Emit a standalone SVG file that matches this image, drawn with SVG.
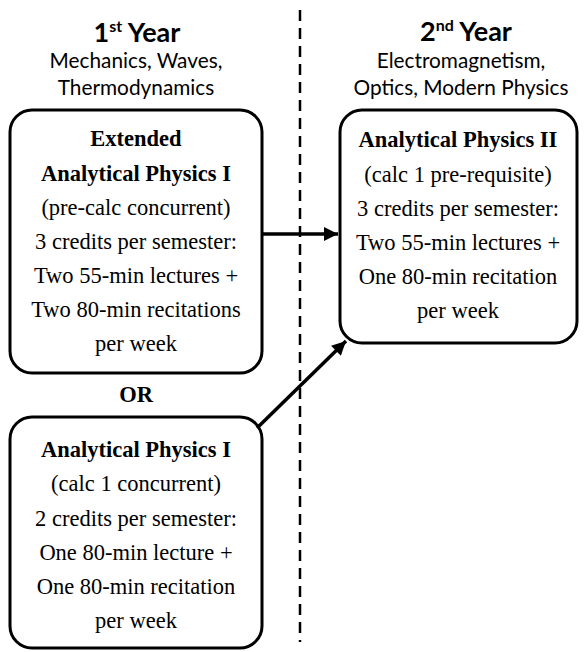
<svg xmlns="http://www.w3.org/2000/svg" width="586" height="652" viewBox="0 0 586 652">
<defs>
<style>
.h{font-family:Lato,"Open Sans","Liberation Sans",sans-serif;font-weight:bold;font-size:27px;fill:#000;text-anchor:middle}
.s{font-family:Lato,"Open Sans","Liberation Sans",sans-serif;font-size:20.8px;fill:#000;text-anchor:middle}
.t{font-family:"Liberation Serif","Times New Roman",serif;font-size:22.5px;fill:#000;text-anchor:middle}
.b{font-weight:bold}
.box{fill:#fff;stroke:#000;stroke-width:3}
.conn{stroke:#000;stroke-width:3.5;fill:none}
</style>
<marker id="ah" viewBox="0 0 10 10" refX="10" refY="5" markerWidth="4.2" markerHeight="4" markerUnits="strokeWidth" orient="auto">
<path d="M0,0 L10,5 L0,10 z" fill="#000"/>
</marker>
</defs>
<rect width="586" height="652" fill="#fff"/>
<line x1="300" y1="10" x2="300" y2="642" stroke="#000" stroke-width="2.5" stroke-dasharray="11,7"/>
<g id="head1">
<text class="h" x="137" y="42">1<tspan font-size="16" dy="-10">st</tspan><tspan dy="10"> Year</tspan></text>
<text class="s" x="136" y="68">Mechanics, Waves,</text>
<text class="s" x="136" y="95">Thermodynamics</text>
</g>
<g id="head2">
<text class="h" x="466" y="41">2<tspan font-size="16" dy="-10">nd</tspan><tspan dy="10"> Year</tspan></text>
<text class="s" x="461" y="68">Electromagnetism,</text>
<text class="s" x="461" y="95">Optics, Modern Physics</text>
</g>
<g id="extended">
<rect class="box" x="10" y="110" width="252" height="263" rx="22"/>
<text class="t b" x="136" y="146">Extended</text>
<text class="t b" x="136" y="180.5">Analytical Physics I</text>
<text class="t" x="136" y="214.5">(pre-calc concurrent)</text>
<text class="t" x="136" y="249">3 credits per semester:</text>
<text class="t" x="136" y="283">Two 55-min lectures +</text>
<text class="t" x="136" y="317">Two 80-min recitations</text>
<text class="t" x="136" y="351">per week</text>
</g>
<g id="or">
<text class="t b" x="136" y="402">OR</text>
</g>
<g id="ap1">
<rect class="box" x="10" y="417" width="252" height="231" rx="22"/>
<text class="t b" x="136" y="457">Analytical Physics I</text>
<text class="t" x="136" y="491">(calc 1 concurrent)</text>
<text class="t" x="136" y="525.5">2 credits per semester:</text>
<text class="t" x="136" y="560">One 80-min lecture +</text>
<text class="t" x="136" y="594">One 80-min recitation</text>
<text class="t" x="136" y="628">per week</text>
</g>
<g id="ap2">
<rect class="box" x="340" y="110" width="237" height="233" rx="22"/>
<text class="t b" x="458" y="147">Analytical Physics II</text>
<text class="t" x="458" y="182">(calc 1 pre-requisite)</text>
<text class="t" x="458" y="216">3 credits per semester:</text>
<text class="t" x="458" y="250">Two 55-min lectures +</text>
<text class="t" x="458" y="284">One 80-min recitation</text>
<text class="t" x="458" y="318">per week</text>
</g>
<g id="connectors">
<line class="conn" x1="262" y1="234" x2="338" y2="234" marker-end="url(#ah)"/>
<line class="conn" x1="257" y1="428" x2="346" y2="341" marker-end="url(#ah)"/>
</g>
</svg>
